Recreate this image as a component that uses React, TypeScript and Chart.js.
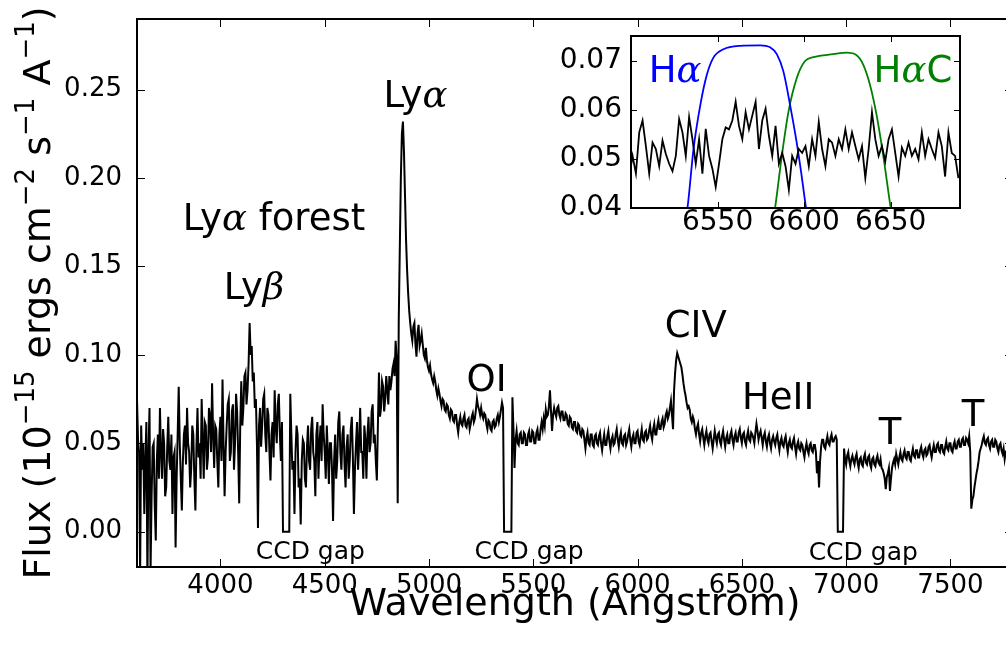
import React, { useEffect, useRef } from "react";
import { Chart, registerables } from "chart.js";

Chart.register(...registerables);

const FONT = "DejaVu Sans";
const GREEK_FONT = "DejaVu Serif";

// ---------- Lyman alpha forest part of the spectrum (5 Angstrom grid, 3600-4845) ----------
const FOREST_START = 3600;
const FOREST_STEP = 5;
const FOREST_FLUX = [
  0.075, 0.052, 0.045, -0.025, 0.060, 0.035, 0.050, 0.010, 0.040, 0.062, // 3600
  -0.030, 0.045, 0.070, -0.022, 0.020, 0.048, 0.050, 0.015, -0.005, 0.040, // 3650
  0.055, 0.030, 0.070, 0.045, 0.030, 0.058, 0.050, 0.020, 0.025, 0.048, // 3700
  0.065, 0.040, 0.035, 0.055, 0.010, 0.042, 0.045, -0.009, 0.030, 0.055, // 3750
  0.082, 0.050, 0.030, 0.012, 0.040, 0.055, 0.060, 0.038, 0.070, 0.050, // 3800
  0.045, 0.025, 0.036, 0.060, 0.055, 0.030, 0.012, 0.048, 0.070, 0.042, // 3850
  0.050, 0.030, 0.075, 0.052, 0.030, 0.062, 0.060, 0.035, 0.042, 0.070, // 3900
  0.065, 0.045, 0.084, 0.055, 0.036, 0.060, 0.058, 0.040, 0.025, 0.055, // 3950
  0.065, 0.040, 0.086, 0.050, 0.020, 0.045, 0.060, 0.072, 0.075, 0.040, // 4000
  0.045, 0.068, 0.072, 0.035, 0.050, 0.078, 0.068, 0.045, 0.016, 0.060, // 4050
  0.085, 0.060, 0.070, 0.088, 0.090, 0.072, 0.080, 0.095, 0.118, 0.100, // 4100
  0.105, 0.085, 0.090, 0.070, 0.075, 0.050, 0.002, 0.060, 0.070, 0.048, // 4150
  0.060, 0.075, 0.078, 0.055, 0.045, 0.070, 0.066, 0.045, 0.029, 0.055, // 4200
  0.062, 0.042, 0.080, 0.060, 0.050, 0.072, 0.078, 0.055, 0.040, 0.062, // 4250
  0.000, 0.000, 0.000, 0.000, 0.000, 0.000, 0.000, 0.078, 0.055, 0.035, // 4300
  0.040, 0.010, 0.045, 0.060, 0.055, 0.025, 0.030, 0.004, 0.040, 0.052, // 4350
  0.050, 0.030, 0.025, 0.048, 0.060, 0.040, 0.035, 0.058, 0.065, 0.045, // 4400
  0.040, 0.020, 0.055, 0.062, 0.030, 0.050, 0.060, 0.040, 0.072, 0.055, // 4450
  0.045, 0.030, 0.060, 0.045, 0.027, 0.050, 0.050, 0.035, 0.006, 0.040, // 4500
  0.055, 0.030, 0.040, 0.062, 0.068, 0.045, 0.035, 0.055, 0.060, 0.038, // 4550
  0.025, 0.048, 0.055, 0.030, 0.040, 0.058, 0.065, 0.042, 0.010, 0.035, // 4600
  0.050, 0.062, 0.035, 0.050, 0.070, 0.045, 0.045, 0.030, 0.060, 0.052, // 4650
  0.030, 0.055, 0.065, 0.045, 0.050, 0.068, 0.072, 0.050, 0.055, 0.040, // 4700
  0.029, 0.060, 0.090, 0.065, 0.070, 0.085, 0.082, 0.068, 0.075, 0.088, // 4750
  0.080, 0.072, 0.088, 0.080, 0.085, 0.092, 0.095, 0.088, 0.108, 0.098, // 4800
];

// ---------- rest of the spectrum (5 Angstrom grid, 4850-7800) ----------
const SPEC_START = 4850;
const SPEC_STEP = 5;
const SPEC_FLUX = [
  0.016, 0.120, 0.160, 0.200, 0.225, 0.232, 0.215, 0.190, 0.165, 0.148, 0.135, 0.125, 0.118, 0.112, 0.108, 0.116, 0.118, 0.106, 0.099, 0.112, // 4850
  0.117, 0.105, 0.108, 0.112, 0.106, 0.100, 0.098, 0.104, 0.097, 0.093, 0.091, 0.094, 0.089, 0.086, 0.084, 0.088, 0.085, 0.080, 0.077, 0.081, // 4950
  0.078, 0.074, 0.071, 0.075, 0.074, 0.069, 0.068, 0.072, 0.071, 0.066, 0.064, 0.069, 0.068, 0.063, 0.062, 0.066, 0.066, 0.060, 0.056, 0.062, // 5050
  0.065, 0.061, 0.060, 0.064, 0.066, 0.060, 0.059, 0.063, 0.064, 0.058, 0.061, 0.065, 0.067, 0.062, 0.064, 0.069, 0.075, 0.071, 0.069, 0.066, // 5150
  0.070, 0.066, 0.064, 0.067, 0.066, 0.061, 0.058, 0.063, 0.062, 0.058, 0.057, 0.062, 0.063, 0.059, 0.060, 0.064, 0.066, 0.062, 0.065, 0.069, // 5250
  0.073, 0.070, 0.000, 0.000, 0.000, 0.000, 0.000, 0.000, 0.000, 0.000, 0.076, 0.058, 0.036, 0.052, 0.057, 0.050, 0.049, 0.055, 0.056, 0.050, // 5350
  0.050, 0.056, 0.055, 0.049, 0.049, 0.055, 0.057, 0.051, 0.051, 0.057, 0.056, 0.050, 0.050, 0.056, 0.058, 0.052, 0.052, 0.058, 0.062, 0.058, // 5450
  0.064, 0.060, 0.069, 0.065, 0.066, 0.071, 0.080, 0.068, 0.057, 0.066, 0.070, 0.067, 0.065, 0.070, 0.071, 0.066, 0.064, 0.068, 0.068, 0.063, // 5550
  0.063, 0.067, 0.066, 0.061, 0.060, 0.065, 0.064, 0.059, 0.058, 0.062, 0.062, 0.057, 0.056, 0.061, 0.060, 0.055, 0.054, 0.058, 0.057, 0.052, // 5650
  0.047, 0.053, 0.056, 0.050, 0.049, 0.055, 0.055, 0.049, 0.048, 0.054, 0.055, 0.050, 0.049, 0.054, 0.056, 0.050, 0.046, 0.051, 0.055, 0.049, // 5750
  0.049, 0.054, 0.057, 0.051, 0.047, 0.052, 0.054, 0.049, 0.050, 0.055, 0.058, 0.052, 0.048, 0.053, 0.056, 0.050, 0.049, 0.054, 0.055, 0.049, // 5850
  0.051, 0.055, 0.058, 0.052, 0.048, 0.053, 0.055, 0.050, 0.050, 0.056, 0.057, 0.051, 0.049, 0.054, 0.058, 0.052, 0.051, 0.056, 0.057, 0.052, // 5950
  0.053, 0.057, 0.060, 0.055, 0.052, 0.058, 0.061, 0.055, 0.055, 0.060, 0.063, 0.058, 0.058, 0.062, 0.064, 0.059, 0.061, 0.066, 0.068, 0.064, // 6050
  0.066, 0.070, 0.074, 0.066, 0.058, 0.080, 0.090, 0.097, 0.101, 0.099, 0.097, 0.095, 0.093, 0.089, 0.084, 0.080, 0.077, 0.073, 0.070, 0.071, // 6150
  0.069, 0.064, 0.062, 0.065, 0.063, 0.058, 0.055, 0.059, 0.061, 0.055, 0.051, 0.056, 0.058, 0.053, 0.049, 0.054, 0.057, 0.052, 0.050, 0.055, // 6250
  0.056, 0.051, 0.047, 0.052, 0.057, 0.053, 0.050, 0.055, 0.056, 0.051, 0.049, 0.054, 0.057, 0.052, 0.048, 0.053, 0.055, 0.050, 0.050, 0.055, // 6350
  0.057, 0.052, 0.049, 0.054, 0.056, 0.051, 0.051, 0.056, 0.058, 0.053, 0.050, 0.055, 0.056, 0.051, 0.049, 0.054, 0.057, 0.052, 0.051, 0.056, // 6450
  0.055, 0.053, 0.050, 0.056, 0.061, 0.057, 0.052, 0.055, 0.057, 0.053, 0.049, 0.054, 0.056, 0.051, 0.048, 0.053, 0.055, 0.050, 0.047, 0.052, // 6550
  0.054, 0.051, 0.049, 0.053, 0.055, 0.050, 0.046, 0.051, 0.053, 0.049, 0.048, 0.052, 0.054, 0.049, 0.045, 0.050, 0.052, 0.048, 0.047, 0.051, // 6650
  0.053, 0.048, 0.044, 0.049, 0.051, 0.047, 0.046, 0.050, 0.049, 0.045, 0.042, 0.047, 0.050, 0.046, 0.044, 0.049, 0.050, 0.046, 0.045, 0.049, // 6750
  0.049, 0.045, 0.033, 0.040, 0.025, 0.040, 0.048, 0.052, 0.052, 0.048, 0.047, 0.051, 0.054, 0.050, 0.049, 0.053, 0.055, 0.051, 0.051, 0.053, // 6850
  0.054, 0.052, 0.000, 0.000, 0.000, 0.000, 0.000, 0.000, 0.047, 0.041, 0.038, 0.043, 0.045, 0.040, 0.037, 0.041, 0.043, 0.040, 0.038, 0.042, // 6950
  0.044, 0.039, 0.036, 0.041, 0.042, 0.038, 0.037, 0.042, 0.044, 0.039, 0.038, 0.042, 0.043, 0.038, 0.036, 0.041, 0.042, 0.038, 0.037, 0.041, // 7050
  0.043, 0.039, 0.038, 0.041, 0.036, 0.035, 0.033, 0.030, 0.024, 0.031, 0.033, 0.036, 0.023, 0.030, 0.036, 0.039, 0.041, 0.038, 0.044, 0.041, // 7150
  0.038, 0.042, 0.045, 0.041, 0.040, 0.044, 0.046, 0.042, 0.041, 0.045, 0.045, 0.041, 0.040, 0.044, 0.047, 0.043, 0.042, 0.046, 0.046, 0.042, // 7250
  0.042, 0.046, 0.048, 0.044, 0.042, 0.046, 0.047, 0.043, 0.044, 0.048, 0.049, 0.045, 0.042, 0.046, 0.049, 0.045, 0.045, 0.049, 0.050, 0.046, // 7350
  0.045, 0.049, 0.049, 0.045, 0.044, 0.048, 0.051, 0.047, 0.046, 0.050, 0.050, 0.046, 0.045, 0.049, 0.051, 0.047, 0.047, 0.051, 0.052, 0.048, // 7450
  0.048, 0.052, 0.053, 0.049, 0.049, 0.053, 0.052, 0.050, 0.054, 0.045, 0.013, 0.018, 0.020, 0.025, 0.029, 0.033, 0.036, 0.040, 0.045, 0.047, // 7550
  0.049, 0.052, 0.054, 0.050, 0.049, 0.052, 0.053, 0.049, 0.047, 0.051, 0.052, 0.048, 0.048, 0.052, 0.051, 0.047, 0.045, 0.049, 0.050, 0.046, // 7650
  0.044, 0.047, 0.041, 0.045, 0.046, 0.042, 0.046, 0.043, 0.042, 0.046, 0.043, // 7750
];

const X_MIN = 3600;
const X_MAX = 7800;
const Y_MIN = -0.02;
const Y_MAX = 0.29;
const X_TICKS = [4000, 4500, 5000, 5500, 6000, 6500, 7000, 7500];
const Y_TICKS = [0.0, 0.05, 0.1, 0.15, 0.2, 0.25];

// line labels (text, wavelength, flux of label centre)
const LABEL_TEXT = ["Lyα forest", "Lyβ", "Lyα", "OI", "CIV", "HeII", "T", "T"];
const LABEL_WAVE = [4257, 4161, 4935, 5276, 6279, 6674, 7210, 7609];
const LABEL_FLUX = [0.178, 0.139, 0.248, 0.087, 0.1175, 0.077, 0.0573, 0.0675];
const GAP_TEXT = "CCD gap";
const GAP_WAVE = [4431, 5480, 7082];
const GAP_FLUX = [-0.0102, -0.0102, -0.0108];

const X_TITLE = "Wavelength (Angstrom)";
// [text, isSuperscript]
const Y_TITLE_RUNS: [string, boolean][] = [
  ["Flux (10", false],
  ["−15", true],
  [" ergs cm", false],
  ["−2", true],
  [" s", false],
  ["−1", true],
  [" A", false],
  ["−1", true],
  [")", false],
];

// ---------- inset ----------
const INSET_START = 6499;
const INSET_STEP = 1.92;
const INSET_FLUX = [
  0.0464, 0.0506, 0.047, 0.0554, 0.0578, 0.0526, 0.047, 0.0533, 0.052, 0.0485,
  0.0537, 0.051, 0.049, 0.0475, 0.0506, 0.0581, 0.0554, 0.0506, 0.0585, 0.054,
  0.049, 0.054, 0.047, 0.0561, 0.0506, 0.048, 0.0443, 0.049, 0.054, 0.0564,
  0.056, 0.0578, 0.0616, 0.0567, 0.054, 0.0595, 0.056, 0.0588, 0.0616, 0.052,
  0.0578, 0.0602, 0.0547, 0.0506, 0.0567, 0.049, 0.0512, 0.0485, 0.0437, 0.0506,
  0.049, 0.052, 0.0512, 0.0526, 0.0485, 0.054, 0.0506, 0.0575, 0.052, 0.0485,
  0.054, 0.0533, 0.0506, 0.054, 0.052, 0.056, 0.052, 0.0554, 0.0526, 0.0499,
  0.0526, 0.0461, 0.052, 0.0595, 0.054, 0.0506, 0.0526, 0.0495, 0.054, 0.056,
  0.0512, 0.0464, 0.0523, 0.0506, 0.0533, 0.0506, 0.052, 0.0499, 0.0554, 0.0506,
  0.054, 0.052, 0.0502, 0.0554, 0.0526, 0.0464, 0.0554, 0.0512, 0.0506, 0.0461,
];
const HA_WAVE = [6528, 6532.6, 6536.1, 6540, 6543.8, 6547.6, 6553.4, 6563, 6574.6, 6580.3, 6584.2, 6588, 6591.9, 6595.7, 6598.6, 6601.1, 6604];
const HA_CURVE = [0.032, 0.04, 0.052, 0.0609, 0.0671, 0.0706, 0.0723, 0.073, 0.0731, 0.0727, 0.0713, 0.0678, 0.0609, 0.0533, 0.0464, 0.04, 0.034];
const HAC_WAVE = [6580, 6583.2, 6587.1, 6590.9, 6595.7, 6600.5, 6605.3, 6616.8, 6624.6, 6630.3, 6634.1, 6638, 6641.9, 6645.7, 6650, 6653];
const HAC_CURVE = [0.033, 0.04, 0.0506, 0.0595, 0.0664, 0.0699, 0.0707, 0.0713, 0.0716, 0.0711, 0.0692, 0.0651, 0.0588, 0.0506, 0.04, 0.034];
const INSET_X_MIN = 6500;
const INSET_X_MAX = 6690;
const INSET_Y_MIN = 0.04;
const INSET_Y_MAX = 0.075;
const INSET_X_TICKS = [6550, 6600, 6650];
const INSET_Y_TICKS = [0.04, 0.05, 0.06, 0.07];
const INSET_LABEL_TEXT = ["Hα", "HαC"];
const INSET_LABEL_WAVE = [6525.5, 6662.8];
const INSET_LABEL_FLUX = [0.0683, 0.0683];
const INSET_LABEL_COLOR = ["#0000ff", "#008000"];

function drawRich(ctx: CanvasRenderingContext2D, text: string, cx: number, cy: number, size: number, color: string) {
  const runs: { t: string; g: boolean; w: number }[] = [];
  for (const ch of text) {
    const g = ch === "α" || ch === "β";
    const last = runs[runs.length - 1];
    if (last && last.g === g) last.t += ch;
    else runs.push({ t: ch, g, w: 0 });
  }
  const fontFor = (g: boolean) => (g ? `italic ${size}px "${GREEK_FONT}"` : `${size}px "${FONT}"`);
  let total = 0;
  for (const r of runs) {
    ctx.font = fontFor(r.g);
    r.w = ctx.measureText(r.t).width;
    total += r.w;
  }
  let x = cx - total / 2;
  const base = cy + size * 0.364;
  ctx.fillStyle = color;
  ctx.textAlign = "left";
  ctx.textBaseline = "alphabetic";
  for (const r of runs) {
    ctx.font = fontFor(r.g);
    ctx.fillText(r.t, x, base);
    x += r.w;
  }
}

// frame, inward ticks on all four sides, and x tick labels
function frameTicksPlugin(xTicks: number[], yTicks: number[], len: number, frameWidth: number, labelSize: number, labelGap: number) {
  return {
    id: "frameTicks",
    afterDraw(chart: any) {
      const { ctx, chartArea: a, scales } = chart;
      ctx.save();
      ctx.strokeStyle = "#000";
      ctx.lineWidth = 1;
      ctx.beginPath();
      for (const v of xTicks) {
        const px = Math.round(scales.x.getPixelForValue(v)) + 0.5;
        ctx.moveTo(px, a.bottom);
        ctx.lineTo(px, a.bottom - len);
        ctx.moveTo(px, a.top);
        ctx.lineTo(px, a.top + len);
      }
      for (const v of yTicks) {
        const py = Math.round(scales.y.getPixelForValue(v)) + 0.5;
        ctx.moveTo(a.left, py);
        ctx.lineTo(a.left + len, py);
        ctx.moveTo(a.right, py);
        ctx.lineTo(a.right - len, py);
      }
      ctx.stroke();
      ctx.lineWidth = frameWidth;
      ctx.strokeRect(a.left, a.top, a.right - a.left, a.bottom - a.top);
      ctx.fillStyle = "#000";
      ctx.font = `${labelSize}px "${FONT}"`;
      ctx.textAlign = "center";
      ctx.textBaseline = "alphabetic";
      for (const v of xTicks) {
        ctx.fillText(String(v), scales.x.getPixelForValue(v), a.bottom + labelGap);
      }
      ctx.restore();
    },
  };
}

const mainLabelsPlugin = {
  id: "mainLabels",
  afterDraw(chart: any) {
    const { ctx, scales, chartArea: a } = chart;
    ctx.save();
    LABEL_TEXT.forEach((t, i) => {
      drawRich(ctx, t, scales.x.getPixelForValue(LABEL_WAVE[i]), scales.y.getPixelForValue(LABEL_FLUX[i]), 37, "#000");
    });
    GAP_WAVE.forEach((w, i) => {
      drawRich(ctx, GAP_TEXT, scales.x.getPixelForValue(w), scales.y.getPixelForValue(GAP_FLUX[i]), 25, "#000");
    });
    // y axis title with superscripts
    const size = 38;
    const sup = 26;
    let total = 0;
    const widths = Y_TITLE_RUNS.map(([t, s]) => {
      ctx.font = `${s ? sup : size}px "${FONT}"`;
      const w = ctx.measureText(t).width;
      total += w;
      return w;
    });
    ctx.translate(50, (a.top + a.bottom) / 2);
    ctx.rotate(-Math.PI / 2);
    ctx.fillStyle = "#000";
    ctx.textAlign = "left";
    ctx.textBaseline = "alphabetic";
    let x = -total / 2;
    Y_TITLE_RUNS.forEach(([t, s], i) => {
      ctx.font = `${s ? sup : size}px "${FONT}"`;
      ctx.fillText(t, x, s ? -size * 0.42 : 0);
      x += widths[i];
    });
    ctx.restore();
  },
};

const insetPlugin = {
  id: "insetBg",
  beforeDraw(chart: any) {
    const { ctx, chartArea: a } = chart;
    ctx.save();
    ctx.fillStyle = "#fff";
    ctx.fillRect(a.left, a.top, a.right - a.left, a.bottom - a.top);
    ctx.restore();
  },
  afterDraw(chart: any) {
    const { ctx, scales } = chart;
    ctx.save();
    INSET_LABEL_TEXT.forEach((t, i) => {
      drawRich(ctx, t, scales.x.getPixelForValue(INSET_LABEL_WAVE[i]), scales.y.getPixelForValue(INSET_LABEL_FLUX[i]), 37, INSET_LABEL_COLOR[i]);
    });
    ctx.restore();
  },
};

function yScale(min: number, max: number, ticks: number[], width: number, size: number, pad: number) {
  return {
    type: "linear",
    min,
    max,
    afterBuildTicks: (s: any) => {
      s.ticks = ticks.map((v) => ({ value: v }));
    },
    afterFit: (s: any) => {
      s.width = width;
      s.paddingTop = 0;
      s.paddingBottom = 0;
    },
    grid: { display: false, drawTicks: false },
    border: { display: false },
    ticks: {
      color: "#000",
      font: { family: FONT, size },
      padding: pad,
      autoSkip: false,
      callback: (v: any) => Number(v).toFixed(2),
    },
  };
}

function xScale(min: number, max: number, ticks: number[], height: number, title: any) {
  return {
    type: "linear",
    min,
    max,
    afterBuildTicks: (s: any) => {
      s.ticks = ticks.map((v) => ({ value: v }));
    },
    afterFit: (s: any) => {
      s.height = height;
      s.paddingLeft = 0;
      s.paddingRight = 0;
    },
    grid: { display: false, drawTicks: false },
    border: { display: false },
    ticks: { display: false },
    title,
  };
}

export default function App() {
  const mainRef = useRef<HTMLCanvasElement>(null);
  const insetRef = useRef<HTMLCanvasElement>(null);

  useEffect(() => {
    Chart.defaults.font.family = FONT;
    const specData = [
      ...FOREST_FLUX.map((f, i) => ({ x: FOREST_START + i * FOREST_STEP, y: f })),
      ...SPEC_FLUX.map((f, i) => ({ x: SPEC_START + i * SPEC_STEP, y: f })),
    ];
    const main = new Chart(mainRef.current as HTMLCanvasElement, {
      type: "line",
      data: {
        datasets: [
          {
            data: specData,
            borderColor: "#000",
            borderWidth: 2,
            pointRadius: 0,
            tension: 0,
            fill: false,
          },
        ],
      },
      options: {
        animation: false,
        responsive: false,
        devicePixelRatio: 1,
        layout: { padding: { left: 0, top: 19, right: 7, bottom: 0 } },
        plugins: { legend: { display: false }, tooltip: { enabled: false } },
        scales: {
          x: xScale(X_MIN, X_MAX, X_TICKS, 82, {
            display: true,
            text: X_TITLE,
            color: "#000",
            font: { family: FONT, size: 38 },
            padding: { top: 0, bottom: 21 },
          }),
          y: yScale(Y_MIN, Y_MAX, Y_TICKS, 137, 26, 15),
        },
      },
      plugins: [frameTicksPlugin(X_TICKS, Y_TICKS, 8, 2, 26, 26), mainLabelsPlugin],
    } as any);

    const insetData = INSET_FLUX.map((f, i) => ({ x: INSET_START + i * INSET_STEP, y: f }));
    const haData = HA_WAVE.map((w, i) => ({ x: w, y: HA_CURVE[i] }));
    const hacData = HAC_WAVE.map((w, i) => ({ x: w, y: HAC_CURVE[i] }));
    const inset = new Chart(insetRef.current as HTMLCanvasElement, {
      type: "line",
      data: {
        datasets: [
          { data: insetData, borderColor: "#000", borderWidth: 1.8, pointRadius: 0, tension: 0 },
          { data: haData, borderColor: "#0000ff", borderWidth: 1.8, pointRadius: 0, cubicInterpolationMode: "monotone" },
          { data: hacData, borderColor: "#008000", borderWidth: 1.8, pointRadius: 0, cubicInterpolationMode: "monotone" },
        ],
      },
      options: {
        animation: false,
        responsive: false,
        devicePixelRatio: 1,
        layout: { padding: { left: 0, top: 16, right: 10, bottom: 0 } },
        plugins: { legend: { display: false }, tooltip: { enabled: false } },
        scales: {
          x: xScale(INSET_X_MIN, INSET_X_MAX, INSET_X_TICKS, 42, { display: false }),
          y: yScale(INSET_Y_MIN, INSET_Y_MAX, INSET_Y_TICKS, 91, 28, 9),
        },
      },
      plugins: [insetPlugin, frameTicksPlugin(INSET_X_TICKS, INSET_Y_TICKS, 6, 2, 28, 22)],
    } as any);

    return () => {
      main.destroy();
      inset.destroy();
    };
  }, []);

  return (
    <div
      style={{
        position: "fixed",
        left: 0,
        top: 0,
        width: 1006,
        height: 649,
        overflow: "hidden",
        background: "#fff",
      }}
    >
      <canvas
        ref={mainRef}
        width={1020}
        height={649}
        style={{ position: "absolute", left: 0, top: 0, width: 1020, height: 649 }}
      />
      <canvas
        ref={insetRef}
        width={430}
        height={230}
        style={{ position: "absolute", left: 540, top: 20, width: 430, height: 230 }}
      />
    </div>
  );
}
